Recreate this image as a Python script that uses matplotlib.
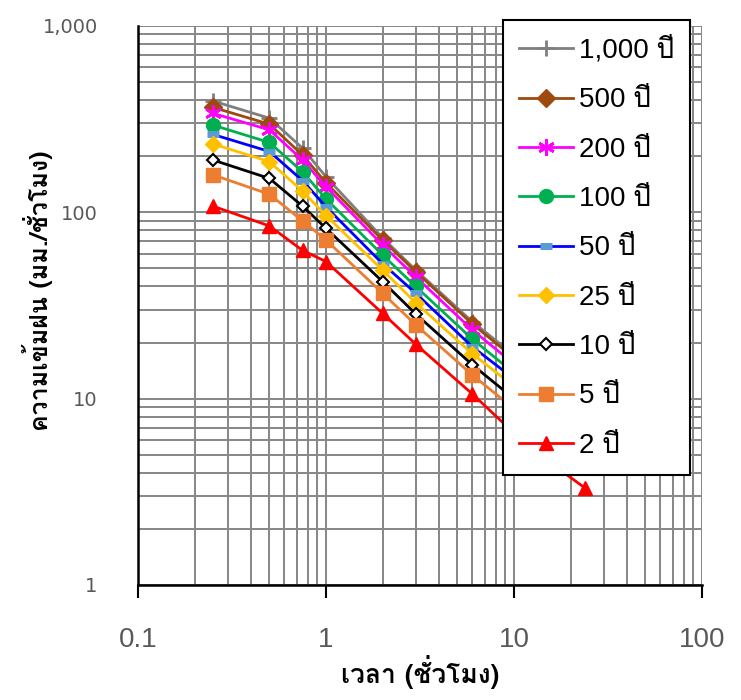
import matplotlib
matplotlib.use("Agg")
import matplotlib.pyplot as plt
from matplotlib.ticker import FixedLocator, FuncFormatter, LogLocator, NullFormatter

THAI = "Loma"

# duration (hours) and rainfall intensity (mm/hr) per return period
durations = [0.25, 0.5, 0.75, 1, 2, 3, 6, 12, 24]
i_1000 = [396, 320, 221, 155, 73, 49, 25.9, 14.8, 8.9]
i_500 = [366, 297, 203, 144, 71, 48, 25.2, 14.2, 8.5]
i_200 = [340, 277, 191, 137, 66.8, 45, 23.4, 13.2, 7.9]
i_100 = [294, 237, 165, 118, 59, 40, 20.9, 11.8, 7.1]
i_50 = [262, 212, 148, 107, 53, 36.8, 19.0, 11.1, 6.6]
i_25 = [233, 187, 130, 96, 49, 32.7, 17.4, 10.1, 6.1]
i_10 = [191, 152, 108, 82, 42.5, 28.5, 15.2, 8.6, 5.2]
i_5 = [159, 125, 90, 71, 36.8, 24.9, 13.4, 7.6, 4.6]
i_2 = [108, 84.5, 62.5, 54.4, 28.7, 19.6, 10.6, 5.5, 3.3]

labels = ["1,000 ปี", "500 ปี", "200 ปี", "100 ปี", "50 ปี",
          "25 ปี", "10 ปี", "5 ปี", "2 ปี"]
series = [i_1000, i_500, i_200, i_100, i_50, i_25, i_10, i_5, i_2]

styles = [
    dict(color="#7f7f7f", marker="+", ms=12, mew=2),
    dict(color="#9e4a0f", marker="D", ms=9),
    dict(color="#ff00ff", marker=(6, 2, 0), ms=12, mew=2),
    dict(color="#00b050", marker="o", ms=10),
    dict(color="#0000ff", marker="_", ms=8, mew=5, mec="#5b9bd5"),
    dict(color="#ffc000", marker="D", ms=8),
    dict(color="#000000", marker="D", ms=6.5, mfc="white", mew=1.5),
    dict(color="#ed7d31", marker="s", ms=10),
    dict(color="#ff0000", marker="^", ms=10),
]

fig = plt.figure(figsize=(7.41, 7.00), dpi=100)
ax = fig.add_axes([0.1862, 0.1643, 0.7612, 0.7986])

for vals, lab, st in zip(series, labels, styles):
    ax.plot(durations, vals, lw=2, label=lab, zorder=3, **st)

ax.set_xscale("log")
ax.set_yscale("log")
ax.set_xlim(0.1, 100)
ax.set_ylim(1, 1000)

ax.xaxis.set_major_locator(FixedLocator([0.1, 1, 10, 100]))
ax.xaxis.set_major_formatter(FuncFormatter(lambda v, p: f"{v:g}"))
ax.yaxis.set_major_locator(FixedLocator([1, 10, 100, 1000]))
ax.yaxis.set_major_formatter(FuncFormatter(lambda v, p: f"{v:,.0f}"))
for axis in (ax.xaxis, ax.yaxis):
    axis.set_minor_locator(LogLocator(base=10, subs=range(2, 10)))
    axis.set_minor_formatter(NullFormatter())

ax.grid(True, which="both", color="#898989", lw=1.45, zorder=0)
ax.set_axisbelow(True)

for s in ("top", "right"):
    ax.spines[s].set_visible(False)
for s in ("left", "bottom"):
    ax.spines[s].set_linewidth(1.8)
    ax.spines[s].set_color("black")
    ax.spines[s].set_zorder(4)

ax.tick_params(axis="x", which="major", length=9, width=1.5, color="black",
               pad=21, labelsize=20, labelcolor="#595959")
ax.tick_params(axis="y", which="major", length=0, pad=29,
               labelsize=14, labelcolor="#595959")
ax.tick_params(which="minor", length=0)
for t in ax.get_xticklabels():
    t.set_family("Liberation Sans")
for t in ax.get_yticklabels():
    t.set_family("DejaVu Sans")

ax.set_xlabel("เวลา (ชั่วโมง)", family=[THAI, "DejaVu Sans"], fontsize=19,
              fontweight="bold", labelpad=2)
ax.set_ylabel("ความเข้มฝน (มม./ชั่วโมง)", family=[THAI, "DejaVu Sans"],
              fontsize=18, fontweight="bold")
ax.yaxis.set_label_coords(-0.151, 0.526)

leg = ax.legend(loc="upper left", bbox_to_anchor=(0.679, 0.971),
                bbox_transform=fig.transFigure, borderaxespad=0,
                frameon=True, fancybox=False, framealpha=1, edgecolor="black",
                prop={"family": ["Liberation Sans", THAI], "size": 20},
                handlelength=1.95, handletextpad=0.2, labelspacing=0.84,
                borderpad=0.58)
leg.get_frame().set_linewidth(1.5)
leg.set_zorder(10)

fig.savefig("out.png", dpi=100)
